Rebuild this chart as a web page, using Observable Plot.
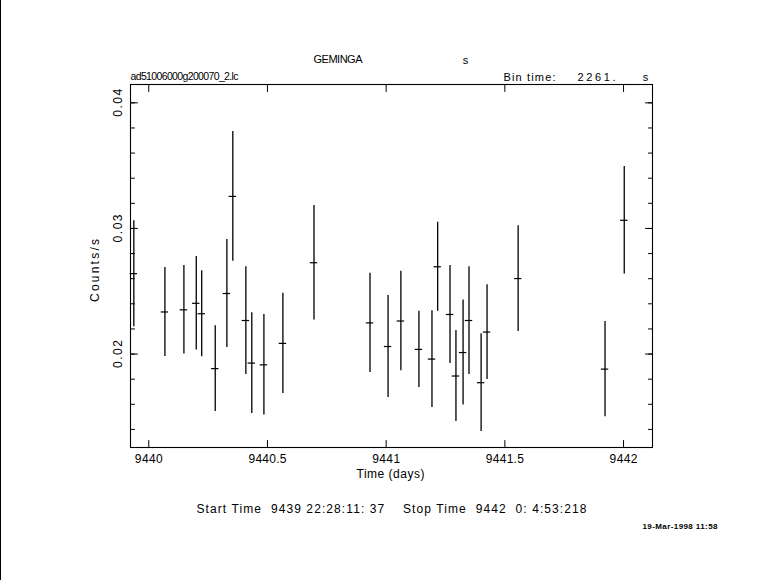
<!DOCTYPE html>
<html><head><meta charset="utf-8">
<script src="https://cdn.jsdelivr.net/npm/d3@7"></script>
<script src="https://cdn.jsdelivr.net/npm/@observablehq/plot@0.6"></script>
<style>
body{margin:0;background:#fff;}
#chart{position:relative;width:781px;height:580px;}
#edge{position:absolute;left:0;top:0;width:1px;height:580px;background:#000;}
svg text{white-space:pre;}
</style></head><body><div id="chart"><div id="edge"></div></div>
<script>
// Light curve of GEMINGA (bin time 2261 s)
const time = [9439.937, 9440.068, 9440.148, 9440.200, 9440.223, 9440.280, 9440.329, 9440.354,
  9440.409, 9440.434, 9440.485, 9440.565, 9440.696, 9440.932, 9441.008, 9441.062, 9441.138,
  9441.193, 9441.217, 9441.269, 9441.294, 9441.324, 9441.349, 9441.400, 9441.425, 9441.556,
  9441.922, 9442.003];
const rate = [0.02640, 0.02335, 0.02352, 0.02404, 0.02321, 0.01884, 0.02482, 0.03255,
  0.02267, 0.01928, 0.01914, 0.02085, 0.02727, 0.02248, 0.02060, 0.02263, 0.02037,
  0.01960, 0.02695, 0.02315, 0.01825, 0.02012, 0.02267, 0.01772, 0.02175, 0.02601,
  0.01880, 0.03065];
const err = [0.00422, 0.00354, 0.00352, 0.00372, 0.00343, 0.00341, 0.00429, 0.00517,
  0.00429, 0.00401, 0.00400, 0.00399, 0.00456, 0.00395, 0.00406, 0.00396, 0.00303,
  0.00385, 0.00355, 0.00390, 0.00362, 0.00418, 0.00429, 0.00389, 0.00377, 0.00421,
  0.00380, 0.00428];
const binTime = 2261; // seconds

const xMajor = [9440, 9440.5, 9441, 9441.5, 9442];
const xMajorLabels = ["9440", "9440.5", "9441", "9441.5", "9442"];
const xMinor = d3.range(99400, 99422).map(d => d / 10);
const yMajor = [0.02, 0.03, 0.04];
const yMajorLabels = ["0.02", "0.03", "0.04"];
const yMinor = d3.range(7, 21).map(d => d * 0.002);

const titleText = "GEMINGA";
const titleUnit = "s";
const fileText = "ad51006000g200070_2.lc";
const binLabel = "Bin time:";
const binValue = "2261.";
const binUnit = "s";
const xLabel = "Time (days)";
const yLabel = "Counts/s";
const startStop = "Start Time  9439 22:28:11: 37    Stop Time  9442  0: 4:53:218";
const stamp = "19-Mar-1998 11:58";

// target rendered widths (px) of the text strings, to mimic the original stroke font
const textWidths = new Map([
  [titleText, 49], [fileText, 108], [binLabel, 52], [binValue, 38], [xLabel, 68],
  [yLabel, 63], [startStop, 390], [stamp, 75],
  ["9440", 28], ["9440.5", 38], ["9441", 28], ["9441.5", 38], ["9442", 28],
  ["0.02", 28], ["0.03", 28], ["0.04", 28]
]);

const half = binTime / 86400 / 2;
const data = time.map((t, i) => ({t, r: rate[i], e: err[i]}));

const tickShape = {draw(ctx, l) { ctx.moveTo(0, 0); ctx.lineTo(0, -l); }};
const ticks = (vals, anchor, rot, len, ch) => Plot.vector(vals, {
  [ch]: d => d, frameAnchor: anchor, rotate: rot, length: len, anchor: "start",
  shape: tickShape, stroke: "black", strokeWidth: 1
});

const font = "Liberation Sans, Arial, sans-serif";
const txt = (s, o) => Plot.text([s], {text: d => d, frameAnchor: "top-left", fill: "black",
  fontFamily: font, fontSize: 11, lineAnchor: "middle", ...o});

const chart = Plot.plot({
  width: 781, height: 580,
  marginLeft: 130, marginRight: 129, marginTop: 84, marginBottom: 133,
  style: {fontFamily: font, background: "white", color: "black"},
  x: {domain: [9439.923, 9442.122], axis: null},
  y: {domain: [0.01256, 0.04146], axis: null},
  marks: [
    Plot.frame({stroke: "black", strokeWidth: 1.1}),
    ticks(xMinor, "bottom", 0, 4, "x"),
    ticks(xMinor, "top", 180, 4, "x"),
    ticks(xMajor, "bottom", 0, 7, "x"),
    ticks(xMajor, "top", 180, 7, "x"),
    ticks(yMinor, "left", 90, 4, "y"),
    ticks(yMinor, "right", 270, 4, "y"),
    ticks(yMajor, "left", 90, 7, "y"),
    ticks(yMajor, "right", 270, 7, "y"),
    Plot.text(xMajor, {x: d => d, frameAnchor: "bottom", dy: 12, lineAnchor: "middle",
      text: (d, i) => xMajorLabels[i], fontSize: 12, fill: "black"}),
    Plot.text(yMajor, {y: d => d, frameAnchor: "left", dx: -12, rotate: -90, textAnchor: "middle",
      lineAnchor: "middle", text: (d, i) => yMajorLabels[i], fontSize: 12, fill: "black"}),
    Plot.ruleX(data, {x: "t", y1: d => d.r - d.e, y2: d => d.r + d.e, stroke: "black", strokeWidth: 1.3}),
    Plot.ruleY(data, {y: "r", x1: d => d.t - half, x2: d => d.t + half, stroke: "black", strokeWidth: 1.2,
      strokeLinecap: "square"}),
    txt(titleText, {dx: 207.5, dy: -25, textAnchor: "middle"}),
    txt(titleUnit, {dx: 335, dy: -24, textAnchor: "middle"}),
    txt(fileText, {dx: 0, dy: -8, textAnchor: "start", fontSize: 10.5}),
    txt(binLabel, {dx: 373, dy: -7, textAnchor: "start"}),
    txt(binValue, {dx: 447, dy: -7, textAnchor: "start"}),
    txt(binUnit, {dx: 515, dy: -7, textAnchor: "middle"}),
    txt(yLabel, {dx: -35, dy: 186, rotate: -90, textAnchor: "middle", fontSize: 12}),
    txt(xLabel, {dx: 260, dy: 390, textAnchor: "middle", fontSize: 12}),
    txt(startStop, {dx: 66, dy: 425, textAnchor: "start", fontSize: 12}),
    txt(stamp, {dx: 512, dy: 442, textAnchor: "start", fontSize: 8, fontWeight: "bold"})
  ]
});
chart.querySelectorAll("text").forEach(el => {
  const w = textWidths.get(el.textContent);
  if (w) { el.setAttribute("textLength", w); el.setAttribute("lengthAdjust", "spacing"); }
});
document.getElementById("chart").appendChild(chart);
</script></body></html>
